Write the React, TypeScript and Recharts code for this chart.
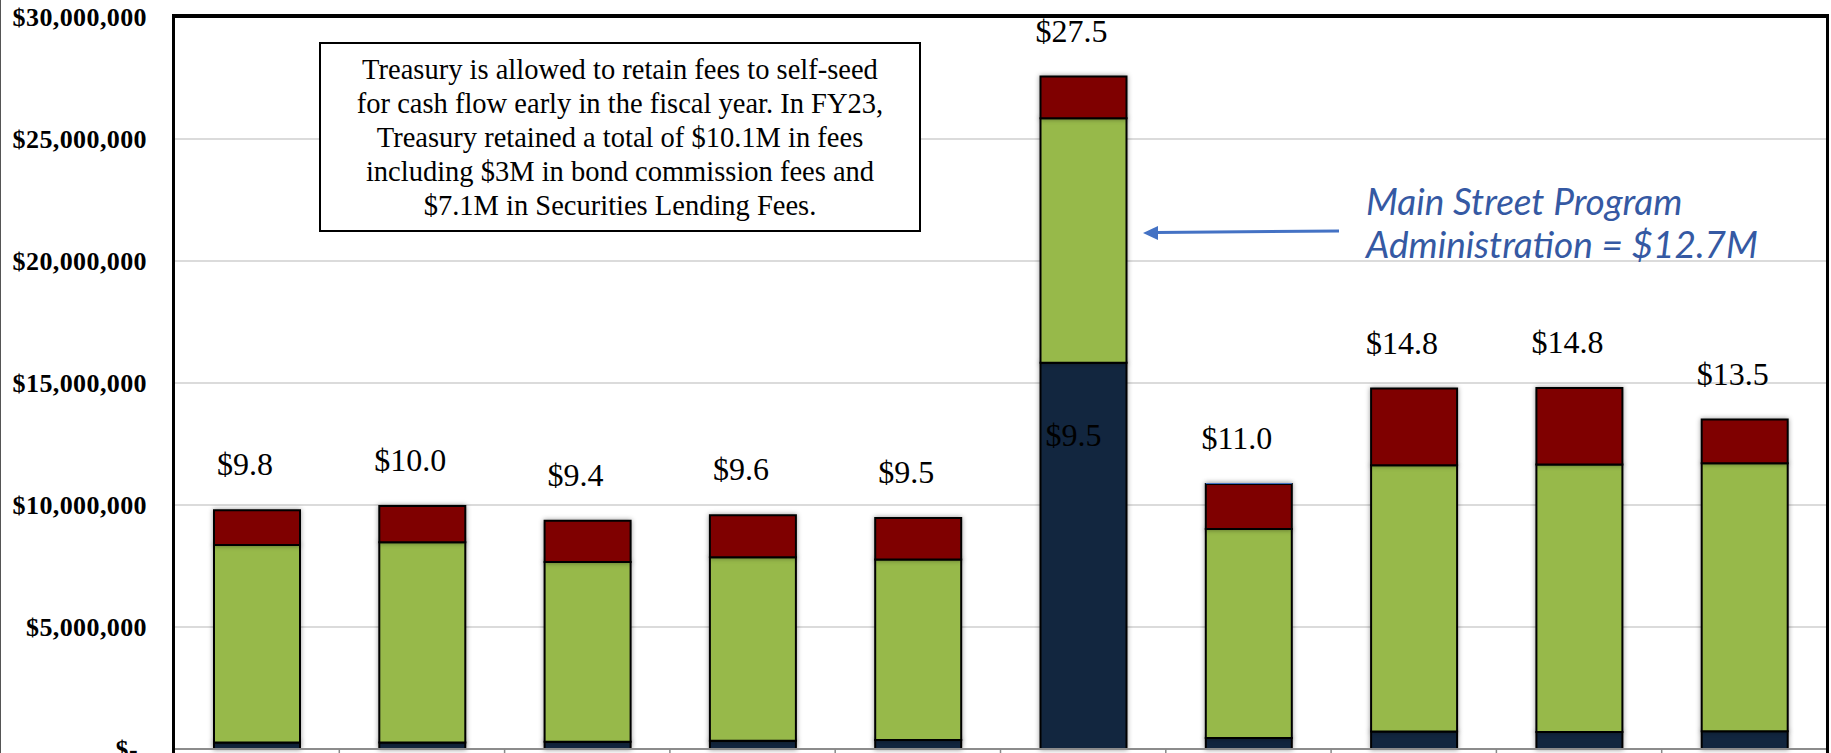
import React from "react";
import {
  BarChart,
  Bar,
  XAxis,
  YAxis,
  CartesianGrid,
  LabelList,
} from "recharts";

// fiscal years (axis labels fall below the visible crop)
const categories = ["FY14", "FY15", "FY16", "FY17", "FY18", "FY19", "FY20", "FY21", "FY22", "FY23"];
const navyValues = [270000, 270000, 300000, 340000, 370000, 15830000, 450000, 720000, 700000, 730000];
const greenValues = [8090000, 8200000, 7360000, 7520000, 7400000, 10020000, 8570000, 10910000, 10960000, 10980000];
const redValues = [1420000, 1490000, 1690000, 1720000, 1700000, 1710000, 1840000, 3140000, 3130000, 1790000];
const blueValues = [0, 0, 0, 0, 0, 0, 40000, 0, 0, 0];
const totalLabels = ["$9.8", "$10.0", "$9.4", "$9.6", "$9.5", "$27.5", "$11.0", "$14.8", "$14.8", "$13.5"];
const innerLabels = ["", "", "", "", "", "$9.5", "", "", "", ""];
const yTicks = [0, 5000000, 10000000, 15000000, 20000000, 25000000, 30000000];

const noteLines = [
  "Treasury is allowed to retain fees to self-seed",
  "for cash flow early in the fiscal year. In FY23,",
  "Treasury retained a total of $10.1M in fees",
  "including $3M in bond commission fees and",
  "$7.1M in Securities Lending Fees.",
];
const calloutLines = ["Main Street Program", "Administration = $12.7M"];

const chartData = categories.map((c, i) => ({
  name: c,
  navy: navyValues[i],
  green: greenValues[i],
  red: redValues[i],
  blue: blueValues[i],
  total: totalLabels[i],
  inner: innerLabels[i],
}));

const serif = "'Liberation Serif', 'Times New Roman', serif";

const fmtMoney = (v: number) => "$" + v.toLocaleString("en-US");

const YTick = (props: any) => {
  const { x, y, payload } = props;
  const v = payload.value;
  return (
    <text
      x={v === 0 ? x - 9 : x}
      y={y}
      textAnchor="end"
      dominantBaseline="central"
      fontFamily={serif}
      fontWeight="bold"
      fontSize={26}
      letterSpacing={0.4}
      fill="#000"
    >
      {v === 0 ? "$-" : fmtMoney(v)}
    </text>
  );
};

const XTick = (props: any) => {
  const { x, y, payload, index, visibleTicksCount } = props;
  const half = payload && payload.offset ? payload.offset : 82.7;
  return (
    <g>
      <line x1={x - half} x2={x - half} y1={y - 8} y2={y + 2} stroke="#888" strokeWidth={1.5} />
      {index === visibleTicksCount - 1 && (
        <line x1={x + half} x2={x + half} y1={y - 8} y2={y + 2} stroke="#888" strokeWidth={1.5} />
      )}
    </g>
  );
};

const TotalLabel = (props: any) => {
  const { x, y, width, value } = props;
  if (!value) return null;
  return (
    <text
      x={x + width / 2 - 12}
      y={y - 46}
      textAnchor="middle"
      dominantBaseline="central"
      fontFamily={serif}
      fontSize={32}
      fill="#000"
    >
      {value}
    </text>
  );
};

const InnerLabel = (props: any) => {
  const { x, y, width, value } = props;
  if (!value) return null;
  return (
    <text
      x={x + width / 2 - 10}
      y={y + 72}
      textAnchor="middle"
      dominantBaseline="central"
      fontFamily={serif}
      fontSize={32}
      fill="#000"
    >
      {value}
    </text>
  );
};

export default function App() {
  return (
    <div
      style={{
        position: "absolute",
        left: 0,
        top: 0,
        width: 1831,
        height: 753,
        overflow: "hidden",
        background: "#fff",
      }}
    >
      <style>{`.recharts-bar-rectangle path { filter: drop-shadow(0px 0px 2.5px rgba(0,0,0,0.4)); }`}</style>
      <div style={{ position: "absolute", left: 0, top: 0, width: 1, height: 753, background: "#555" }} />
      <BarChart
        width={1831}
        height={800}
        data={chartData}
        margin={{ top: 17, right: 4, bottom: 21, left: 0 }}
        barSize={86}
      >
        <CartesianGrid stroke="#CFCFCF" strokeWidth={1.3} vertical={false} />
        <XAxis
          dataKey="name"
          height={30}
          axisLine={{ stroke: "#8c8c8c", strokeWidth: 2 }}
          tickLine={false}
          tick={<XTick />}
          interval={0}
        />
        <YAxis
          width={174}
          domain={[0, 30000000]}
          ticks={yTicks}
          axisLine={false}
          tickLine={false}
          tickSize={0}
          tickMargin={27}
          tick={<YTick />}
          interval={0}
        />
        <Bar dataKey="navy" name="Navy" stackId="a" fill="#12263F" stroke="#000" strokeWidth={2} isAnimationActive={false}>
          <LabelList dataKey="inner" content={<InnerLabel />} />
        </Bar>
        <Bar dataKey="green" name="Green" stackId="a" fill="#97B94A" stroke="#000" strokeWidth={2} isAnimationActive={false} />
        <Bar dataKey="red" name="Red" stackId="a" fill="#7F0000" stroke="#000" strokeWidth={2} isAnimationActive={false}>
          <LabelList dataKey="total" content={<TotalLabel />} />
        </Bar>
        <Bar dataKey="blue" name="Blue" stackId="a" fill="#4472C4" isAnimationActive={false} />
      </BarChart>

      {/* plot frame */}
      <div
        style={{
          position: "absolute",
          left: 172,
          top: 14,
          width: 1829 - 172 - 6,
          height: 800,
          borderTop: "4px solid #000",
          borderLeft: "3px solid #000",
          borderRight: "3px solid #000",
          pointerEvents: "none",
        }}
      />

      {/* note box */}
      <div
        style={{
          position: "absolute",
          left: 319,
          top: 42,
          width: 602,
          height: 190,
          border: "2px solid #000",
          background: "#fff",
          fontFamily: serif,
          fontSize: 28.5,
          lineHeight: "34px",
          textAlign: "center",
          color: "#000",
          paddingTop: 9,
          boxSizing: "border-box",
          whiteSpace: "nowrap",
        }}
      >
        {noteLines.map((l, i) => (
          <div key={i}>{l}</div>
        ))}
      </div>

      {/* callout */}
      <svg style={{ position: "absolute", left: 0, top: 0 }} width={1831} height={753}>
        <line x1={1339} y1={231} x2={1156} y2={232.5} stroke="#4472C4" strokeWidth={3} />
        <polygon points="1143,233 1158,226 1158,240" fill="#4472C4" />
        {calloutLines.map((l, i) => (
          <text
            key={i}
            x={1366}
            y={200 + i * 43}
            dominantBaseline="central"
            fontFamily="Lato, 'Open Sans', sans-serif"
            fontStyle="italic"
            fontSize={37}
            fill="#3559A3"
          >
            {l}
          </text>
        ))}
      </svg>
    </div>
  );
}
